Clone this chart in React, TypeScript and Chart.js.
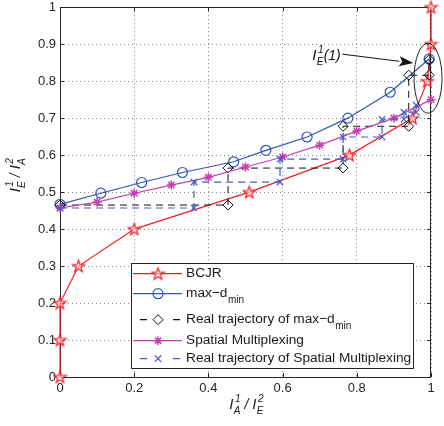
import React, { useEffect, useRef } from "react";
import { Chart, registerables } from "chart.js";

Chart.register(...registerables);

// ---------------- data ----------------
const bcjrX = [0, 0, 0, 0.05, 0.2, 0.51, 0.78, 0.95, 0.99, 1, 1];
const bcjrY = [0, 0.1, 0.2, 0.3, 0.4, 0.5, 0.6, 0.7, 0.8, 0.9, 1];

const maxdX = [0, 0.11, 0.22, 0.33, 0.468, 0.555, 0.666, 0.776, 0.89, 0.995];
const maxdY = [0.467, 0.497, 0.526, 0.553, 0.582, 0.613, 0.649, 0.7, 0.77, 0.86];

const trajMaxdX = [0, 0.453, 0.453, 0.763, 0.763, 0.94, 0.94, 0.995, 0.995];
const trajMaxdY = [0.465, 0.465, 0.565, 0.565, 0.678, 0.678, 0.816, 0.816, 0.858];

const smX = [0, 0.1, 0.2, 0.3, 0.4, 0.5, 0.6, 0.7, 0.8, 0.9, 1.0];
const smY = [0.457, 0.473, 0.497, 0.519, 0.54, 0.568, 0.595, 0.627, 0.665, 0.7, 0.75];

const trajSmX = [0, 0.361, 0.361, 0.593, 0.593, 0.763, 0.763, 0.868, 0.868, 0.927, 0.927, 0.96, 0.96];
const trajSmY = [0.457, 0.457, 0.527, 0.527, 0.589, 0.589, 0.649, 0.649, 0.697, 0.697, 0.716, 0.716, 0.735];

const xTickLabels = ["0", "0.2", "0.4", "0.6", "0.8", "1"];
const yTickLabels = ["0", "0.1", "0.2", "0.3", "0.4", "0.5", "0.6", "0.7", "0.8", "0.9", "1"];

const legendLabels = [
  "BCJR",
  "max\u2212d",
  "Real trajectory of max\u2212d",
  "Spatial Multiplexing",
  "Real trajectory of Spatial Multiplexing",
];
const legendSubs = ["", "min", "min", "", ""];

// annotation anchors (data units)
const annotEllipse = { x: 0.992, y: 0.808 };
const annotArrowFrom = { x: 0.761, y: 0.873 };
const annotArrowTo = { x: 0.952, y: 0.849 };

// ---------------- styles ----------------
const FF = "'Liberation Sans', Arial, Helvetica, sans-serif";
const RED = "rgb(242,30,40)";
const BLUE = "rgb(50,85,185)";
const MAG = "rgb(195,65,175)";
const BLUE2 = "rgb(60,95,200)";
const BLACK = "#111";
const AXIS = "#262626";

const zip = (xs: number[], ys: number[]) => xs.map((x, i) => ({ x, y: ys[i] }));

function starPath(ctx: CanvasRenderingContext2D, cx: number, cy: number, R: number) {
  const r = R * 0.4;
  ctx.beginPath();
  for (let i = 0; i < 10; i++) {
    const a = -Math.PI / 2 + (i * Math.PI) / 5;
    const rr = i % 2 === 0 ? R : r;
    const px = cx + rr * Math.cos(a);
    const py = cy + rr * Math.sin(a);
    if (i === 0) ctx.moveTo(px, py);
    else ctx.lineTo(px, py);
  }
  ctx.closePath();
}

function makeStar(): HTMLCanvasElement {
  const c = document.createElement("canvas");
  c.width = 15;
  c.height = 15;
  const g = c.getContext("2d")!;
  starPath(g, 7.5, 8, 6.3);
  g.fillStyle = "rgba(255,235,235,0.6)";
  g.fill();
  g.strokeStyle = RED;
  g.lineWidth = 1.2;
  g.stroke();
  return c;
}

function scriptedI(
  ctx: CanvasRenderingContext2D,
  x: number,
  base: number,
  sup: string,
  sub: string,
  big: number,
  small: number,
  draw: boolean
): number {
  ctx.font = `italic ${big}px ${FF}`;
  if (draw) ctx.fillText("I", x, base);
  const w = ctx.measureText("I").width;
  ctx.font = `italic ${small}px ${FF}`;
  const ws = Math.max(ctx.measureText(sup).width + 1, ctx.measureText(sub).width);
  if (draw) {
    ctx.fillText(sup, x + w + 1.5, base - big * 0.5);
    ctx.fillText(sub, x + w + 0.3, base + small * 0.45);
  }
  return w + 0.5 + ws;
}

function titleWidth(ctx: CanvasRenderingContext2D, a: [string, string], b: [string, string], draw: boolean, x0 = 0, base = 0) {
  const big = 15;
  const small = 10;
  let x = x0;
  x += scriptedI(ctx, x, base, a[0], a[1], big, small, draw);
  ctx.font = `italic ${big - 1}px ${FF}`;
  const sep = " / ";
  if (draw) ctx.fillText(sep, x, base);
  x += ctx.measureText(sep).width;
  x += scriptedI(ctx, x, base, b[0], b[1], big, small, draw);
  return x - x0;
}

function drawMarker(ctx: CanvasRenderingContext2D, kind: string, x: number, y: number, color: string, star: HTMLCanvasElement) {
  ctx.save();
  ctx.strokeStyle = color;
  ctx.setLineDash([]);
  if (kind === "pent") {
    ctx.drawImage(star, x - star.width / 2, y - star.height / 2);
  } else if (kind === "circle") {
    ctx.lineWidth = 1.2;
    ctx.beginPath();
    ctx.arc(x, y, 5, 0, Math.PI * 2);
    ctx.stroke();
  } else if (kind === "diamond") {
    ctx.lineWidth = 1;
    ctx.beginPath();
    ctx.moveTo(x, y - 5);
    ctx.lineTo(x + 5, y);
    ctx.lineTo(x, y + 5);
    ctx.lineTo(x - 5, y);
    ctx.closePath();
    ctx.stroke();
  } else if (kind === "aster") {
    ctx.lineWidth = 1.5;
    const r = 4.5;
    ctx.beginPath();
    ctx.moveTo(x - r, y);
    ctx.lineTo(x + r, y);
    ctx.moveTo(x, y - r);
    ctx.lineTo(x, y + r);
    const d = r * Math.SQRT1_2;
    ctx.moveTo(x - d, y - d);
    ctx.lineTo(x + d, y + d);
    ctx.moveTo(x - d, y + d);
    ctx.lineTo(x + d, y - d);
    ctx.stroke();
  } else if (kind === "x") {
    ctx.lineWidth = 1.2;
    const d = 4.5 * Math.SQRT1_2;
    ctx.beginPath();
    ctx.moveTo(x - d, y - d);
    ctx.lineTo(x + d, y + d);
    ctx.moveTo(x - d, y + d);
    ctx.lineTo(x + d, y - d);
    ctx.stroke();
  }
  ctx.restore();
}

export default function App() {
  const ref = useRef<HTMLCanvasElement>(null);

  useEffect(() => {
    const canvas = ref.current!;
    const starImg = makeStar();

    const deco = {
      id: "deco",
      beforeDatasetsDraw(chart: any) {
        const ctx: CanvasRenderingContext2D = chart.ctx;
        const ca = chart.chartArea;
        const xs = chart.scales.x;
        const ys = chart.scales.y;
        ctx.save();
        ctx.strokeStyle = AXIS;
        ctx.lineWidth = 1;
        ctx.setLineDash([]);
        ctx.strokeRect(Math.round(ca.left) + 0.5, Math.round(ca.top) + 0.5, Math.round(ca.right - ca.left) - 1, Math.round(ca.bottom - ca.top));
        const tl = 4;
        ctx.beginPath();
        xs.ticks.forEach((t: any) => {
          const px = Math.round(xs.getPixelForValue(t.value)) + 0.5;
          ctx.moveTo(px, ca.bottom);
          ctx.lineTo(px, ca.bottom - tl);
          ctx.moveTo(px, ca.top);
          ctx.lineTo(px, ca.top + tl);
        });
        ys.ticks.forEach((t: any) => {
          const py = Math.round(ys.getPixelForValue(t.value)) + 0.5;
          ctx.moveTo(ca.left, py);
          ctx.lineTo(ca.left + tl, py);
          ctx.moveTo(ca.right, py);
          ctx.lineTo(ca.right - tl, py);
        });
        ctx.stroke();
        ctx.restore();
      },
      afterDatasetsDraw(chart: any) {
        const ctx: CanvasRenderingContext2D = chart.ctx;
        const xs = chart.scales.x;
        const ys = chart.scales.y;
        ctx.save();
        ctx.setLineDash([]);
        // ellipse
        const ex = xs.getPixelForValue(annotEllipse.x);
        const ey = ys.getPixelForValue(annotEllipse.y);
        ctx.strokeStyle = "#222";
        ctx.lineWidth = 1;
        ctx.beginPath();
        ctx.ellipse(ex, ey, 14, 35, 0, 0, Math.PI * 2);
        ctx.stroke();
        // arrow
        const ax0 = xs.getPixelForValue(annotArrowFrom.x);
        const ay0 = ys.getPixelForValue(annotArrowFrom.y);
        const ax1 = xs.getPixelForValue(annotArrowTo.x);
        const ay1 = ys.getPixelForValue(annotArrowTo.y);
        const ang = Math.atan2(ay1 - ay0, ax1 - ax0);
        const hl = 14;
        const hw = 5;
        const bx = ax1 - hl * Math.cos(ang);
        const by = ay1 - hl * Math.sin(ang);
        ctx.strokeStyle = "#111";
        ctx.lineWidth = 1;
        ctx.beginPath();
        ctx.moveTo(ax0, ay0);
        ctx.lineTo(bx, by);
        ctx.stroke();
        ctx.fillStyle = "#111";
        ctx.beginPath();
        ctx.moveTo(ax1, ay1);
        ctx.lineTo(bx - hw * Math.sin(ang), by + hw * Math.cos(ang));
        ctx.lineTo(bx + 3 * Math.cos(ang), by + 3 * Math.sin(ang));
        ctx.lineTo(bx + hw * Math.sin(ang), by - hw * Math.cos(ang));
        ctx.closePath();
        ctx.fill();
        // annotation text  I^1_E(1)
        ctx.fillStyle = "#111";
        ctx.textBaseline = "alphabetic";
        ctx.textAlign = "left";
        const tx = ax0 - 30;
        const tb = ay0 + 6;
        let w = scriptedI(ctx, tx, tb, "1", "E", 15, 10, true);
        ctx.font = `italic 14px ${FF}`;
        ctx.fillText("(1)", tx + w, tb);
        ctx.restore();
      },
      afterDraw(chart: any) {
        const ctx: CanvasRenderingContext2D = chart.ctx;
        const ca = chart.chartArea;
        ctx.save();
        ctx.fillStyle = "#222";
        ctx.textBaseline = "alphabetic";
        ctx.textAlign = "left";
        // x title
        const wx = titleWidth(ctx, ["1", "A"], ["2", "E"], false);
        titleWidth(ctx, ["1", "A"], ["2", "E"], true, (ca.left + ca.right) / 2 - wx / 2 + 1, ca.bottom + 32);
        // y title
        ctx.save();
        ctx.translate(ca.left - 40, ca.top + 168);
        ctx.rotate(-Math.PI / 2);
        const wy = titleWidth(ctx, ["1", "E"], ["2", "A"], false);
        titleWidth(ctx, ["1", "E"], ["2", "A"], true, -wy / 2, 0);
        ctx.restore();

        // legend
        const lx = ca.left + 71;
        const ly = ca.top + 256;
        const lw = 282;
        const lh = 105;
        ctx.fillStyle = "#fff";
        ctx.fillRect(lx, ly, lw, lh);
        ctx.strokeStyle = "#222";
        ctx.lineWidth = 1;
        ctx.strokeRect(Math.round(lx) + 0.5, Math.round(ly) + 0.5, lw, lh);
        const rows = [10, 30, 56, 77, 95];
        const colors = [RED, BLUE, BLACK, MAG, BLUE2];
        const dashed = [false, false, true, false, true];
        const markers = ["pent", "circle", "diamond", "aster", "x"];
        rows.forEach((dy, i) => {
          const yy = ly + dy + 0.5;
          ctx.save();
          ctx.strokeStyle = colors[i];
          ctx.lineWidth = 1.2;
          ctx.beginPath();
          if (dashed[i]) {
            ctx.moveTo(lx + 9, yy);
            ctx.lineTo(lx + 16, yy);
            ctx.moveTo(lx + 42, yy);
            ctx.lineTo(lx + 49, yy);
          } else {
            ctx.moveTo(lx + 2, yy);
            ctx.lineTo(lx + 51, yy);
          }
          ctx.stroke();
          ctx.restore();
          drawMarker(ctx, markers[i], lx + 27, yy, colors[i], starImg);
          ctx.fillStyle = "#1a1a1a";
          ctx.font = `13.7px ${FF}`;
          ctx.textBaseline = "middle";
          ctx.fillText(legendLabels[i], lx + 55, yy);
          if (legendSubs[i]) {
            const tw = ctx.measureText(legendLabels[i]).width;
            ctx.font = `10px ${FF}`;
            ctx.fillText(legendSubs[i], lx + 55 + tw + 0.5, yy + 7);
          }
        });
        ctx.restore();
      },
    };

    const pointBase = { clip: false as any, showLine: true, pointHoverRadius: 5, tension: 0 };

    const chart = new Chart(canvas, {
      type: "scatter",
      data: {
        datasets: [
          {
            ...pointBase,
            label: "BCJR",
            data: zip(bcjrX, bcjrY),
            borderColor: RED,
            borderWidth: 1.2,
            pointStyle: starImg as any,
            pointRadius: 6,
            order: 5,
          },
          {
            ...pointBase,
            label: "max-dmin",
            data: zip(maxdX, maxdY),
            borderColor: BLUE,
            borderWidth: 1.2,
            pointStyle: "circle",
            pointRadius: 5,
            pointBorderColor: BLUE,
            pointBackgroundColor: "rgba(0,0,0,0)",
            pointBorderWidth: 1.2,
            order: 4,
          },
          {
            ...pointBase,
            label: "Real trajectory of max-dmin",
            data: zip(trajMaxdX, trajMaxdY),
            borderColor: BLACK,
            borderWidth: 1,
            borderDash: [7, 5],
            pointStyle: "rectRot",
            pointRadius: 5,
            pointBorderColor: BLACK,
            pointBackgroundColor: "rgba(0,0,0,0)",
            pointBorderWidth: 1,
            order: 3,
          },
          {
            ...pointBase,
            label: "Spatial Multiplexing",
            data: zip(smX, smY),
            borderColor: MAG,
            borderWidth: 1.2,
            pointStyle: "star",
            pointRadius: 4.5,
            pointBorderColor: MAG,
            pointBackgroundColor: MAG,
            pointBorderWidth: 1.5,
            order: 2,
          },
          {
            ...pointBase,
            label: "Real trajectory of Spatial Multiplexing",
            data: zip(trajSmX, trajSmY),
            borderColor: BLUE2,
            borderWidth: 1.2,
            borderDash: [7, 5],
            pointStyle: "crossRot",
            pointRadius: 4.5,
            pointBorderColor: BLUE2,
            pointBorderWidth: 1.2,
            order: 1,
          },
        ] as any,
      },
      options: {
        responsive: false,
        animation: false,
        devicePixelRatio: 1,
        layout: { padding: { top: 7, right: 13, left: 0, bottom: 0 } },
        plugins: { legend: { display: false }, tooltip: { enabled: false } },
        scales: {
          x: {
            type: "linear",
            min: 0,
            max: 1,
            afterFit: (s: any) => {
              s.height = 49;
              s.paddingLeft = 0;
              s.paddingRight = 0;
            },
            ticks: {
              stepSize: 0.2,
              autoSkip: false,
              maxRotation: 0,
              padding: 4,
              color: AXIS,
              font: { family: FF, size: 13 },
              callback: (v: any) => xTickLabels[Math.round(Number(v) * 5)],
            },
            grid: { drawTicks: false, color: "rgba(30,30,30,0.55)", lineWidth: 1 },
            border: { display: false, dash: [1, 3] },
          },
          y: {
            type: "linear",
            min: 0,
            max: 1,
            afterFit: (s: any) => {
              s.width = 60;
              s.paddingTop = 0;
              s.paddingBottom = 0;
            },
            ticks: {
              stepSize: 0.1,
              autoSkip: false,
              padding: 4,
              color: AXIS,
              font: { family: FF, size: 13 },
              callback: (v: any) => yTickLabels[Math.round(Number(v) * 10)],
            },
            grid: { drawTicks: false, color: "rgba(30,30,30,0.55)", lineWidth: 1 },
            border: { display: false, dash: [1, 3] },
          },
        },
      } as any,
      plugins: [deco as any],
    });

    return () => chart.destroy();
  }, []);

  return (
    <div style={{ position: "absolute", left: 0, top: 0, width: 444, height: 426, background: "#fff" }}>
      <canvas ref={ref} width={444} height={426} style={{ display: "block", width: 444, height: 426 }} />
    </div>
  );
}
